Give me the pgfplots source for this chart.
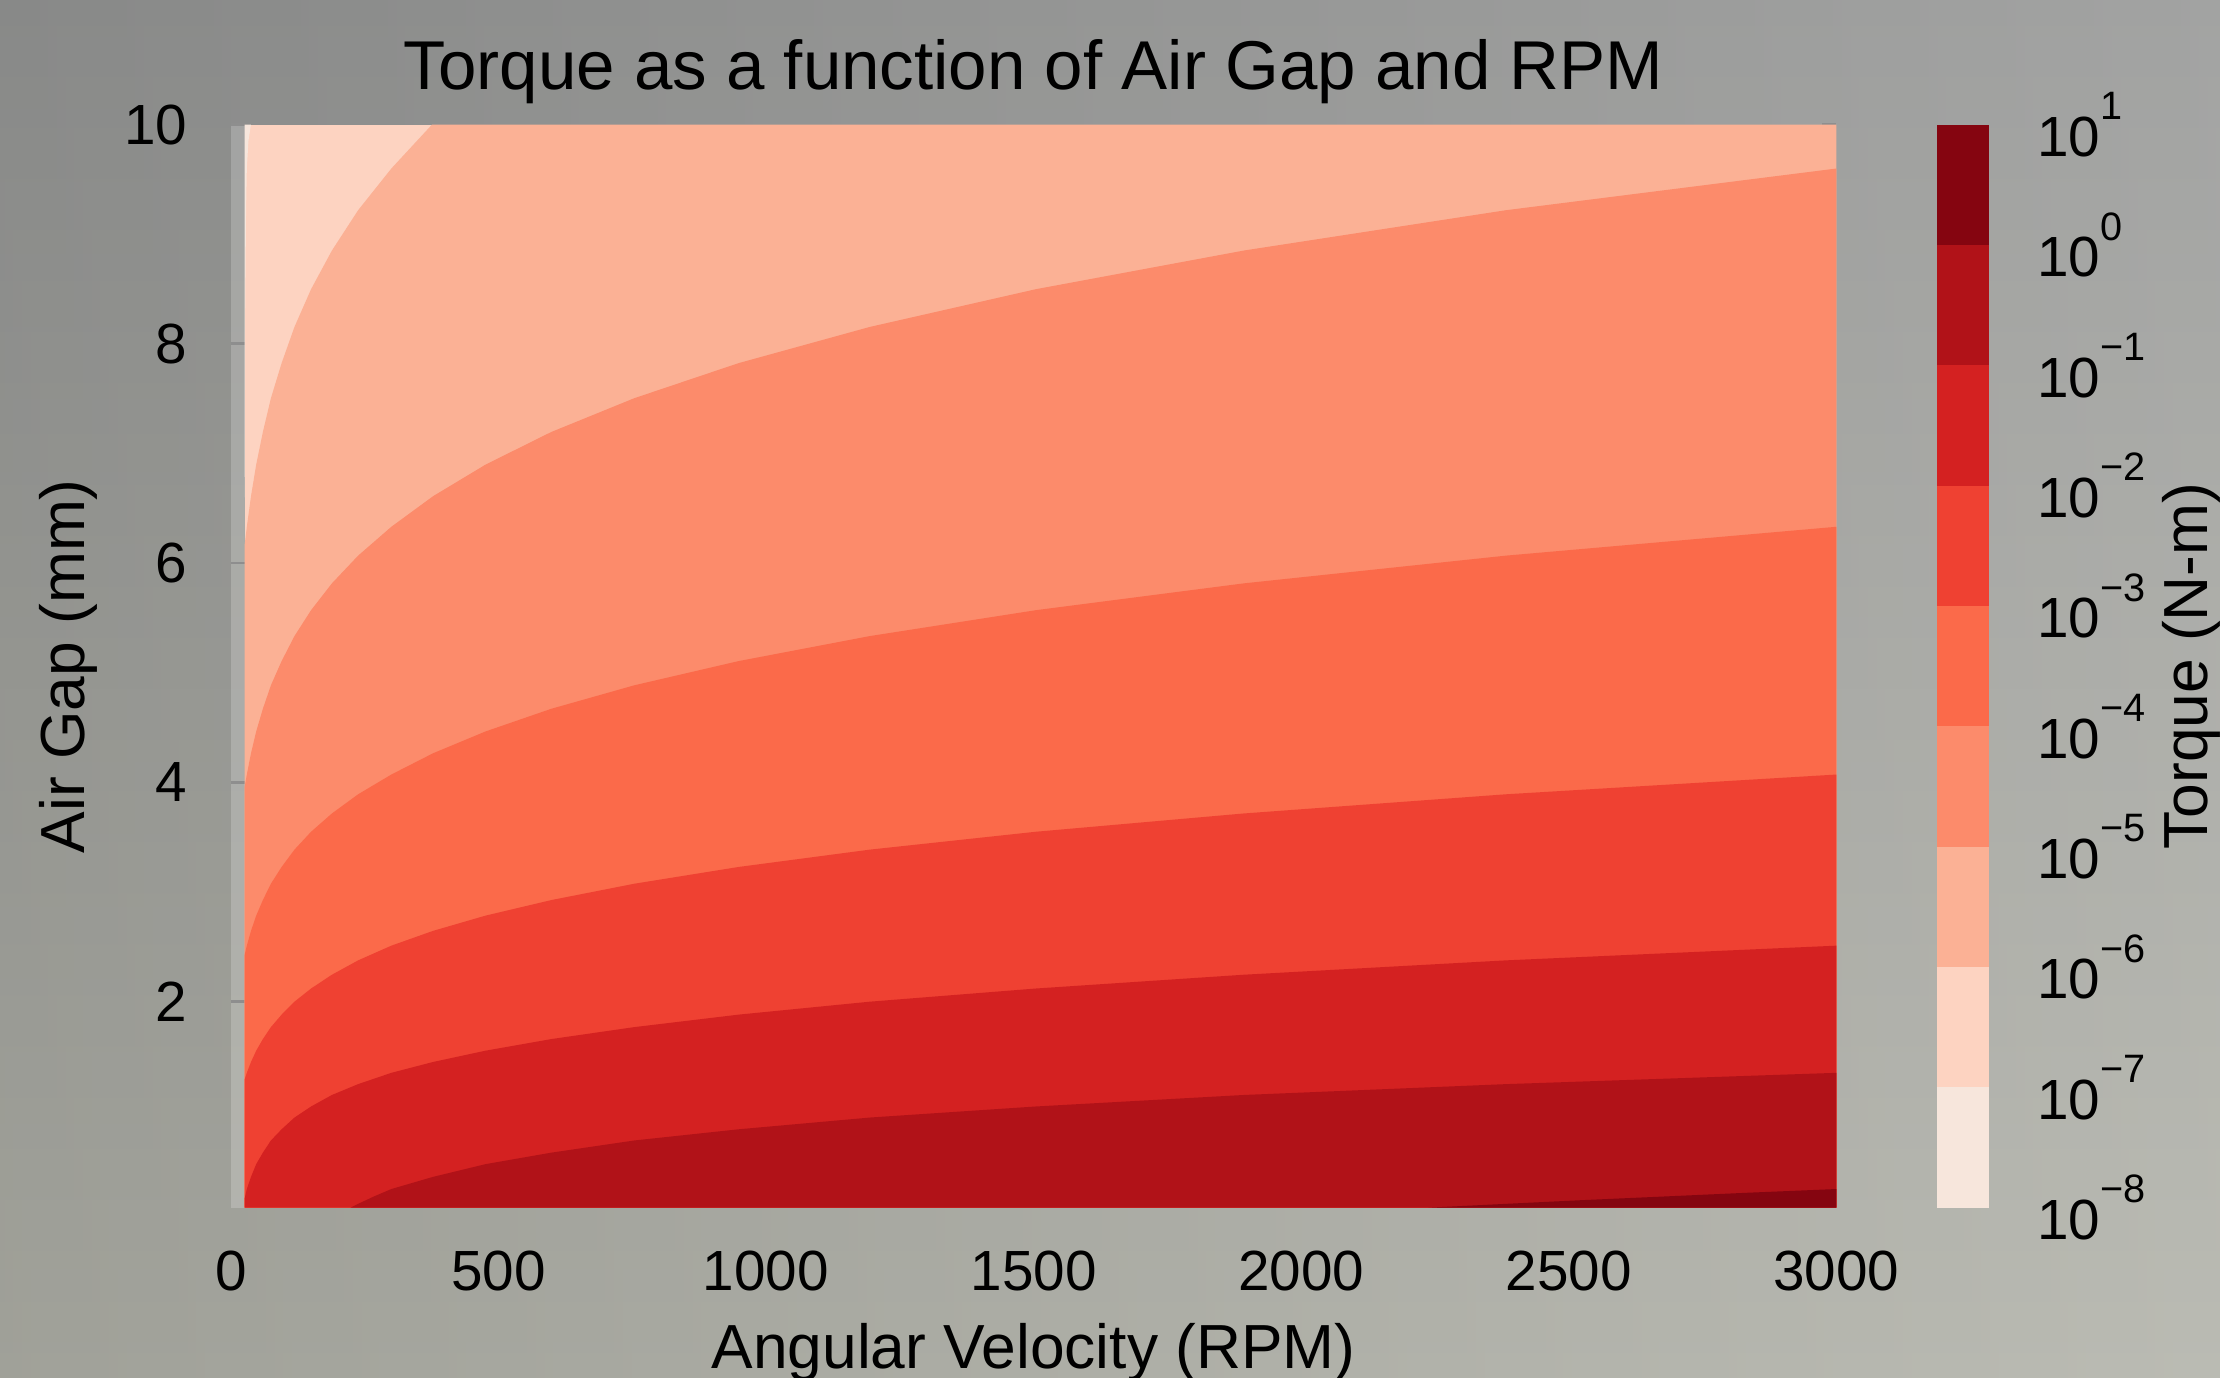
\documentclass[border=0pt]{standalone}
\usepackage{fontspec}
\setmainfont{Liberation Sans}
\usepackage{pgfplots}
\pgfplotsset{compat=1.18}

\definecolor{c1}{HTML}{F7E6DC}
\definecolor{c2}{HTML}{FDD3C1}
\definecolor{c3}{HTML}{FBB195}
\definecolor{c4}{HTML}{FC8B6B}
\definecolor{c5}{HTML}{FB6A4A}
\definecolor{c6}{HTML}{EF4132}
\definecolor{c7}{HTML}{D42121}
\definecolor{c8}{HTML}{B11218}
\definecolor{c9}{HTML}{850510}
\definecolor{bgtop}{HTML}{989998}
\definecolor{bgbot}{HTML}{B3B4AB}
\definecolor{tickgray}{HTML}{8E8E8E}

\newcommand{\pw}[1]{10\raisebox{6.5pt}{\fontsize{7}{7}\selectfont #1}}

\begin{document}
\begin{tikzpicture}
\useasboundingbox (0,0) rectangle (392pt,243.25pt);
\shade[top color=bgtop, bottom color=bgbot] (0,0) rectangle (392pt,243.25pt);
\shade[left color=black, right color=white, opacity=0.10] (0,0) rectangle (392pt,243.25pt);

\begin{axis}[
  at={(40.75pt,30pt)}, anchor=south west,
  scale only axis, width=283.5pt, height=191.25pt,
  xmin=0, xmax=3000, ymin=0.12, ymax=10,
  axis line style={draw=none},
  axis background/.style={fill=white, fill opacity=0.2},
  xtick={0,500,1000,1500,2000,2500,3000},
  xticklabels={0,500,1000,1500,2000,2500,3000},
  ytick={2,4,6,8,10},
  yticklabels={2,4,6,8,10},
  x tick style={draw=none},
  y tick style={draw=tickgray, line width=0.5pt},
  major tick length=2.5pt,
  tick align=inside,
  xticklabel style={font=\fontsize{10}{12}\selectfont, anchor=north, inner sep=0pt, yshift=-7.5pt},
  yticklabel style={font=\fontsize{10}{12}\selectfont, anchor=east, inner sep=0pt, xshift=-7.5pt},
  title={Torque as a function of Air Gap and RPM},
  title style={at={(axis description cs:0.5,1)}, anchor=base, yshift=0.25pt, font=\fontsize{12.2}{14}\selectfont, inner sep=0pt},
  xlabel={Angular Velocity (RPM)},
  xlabel style={at={(axis description cs:0.5,-0.1485)}, anchor=base, font=\fontsize{11}{13}\selectfont, inner sep=0pt},
  ylabel={Air Gap (mm)},
  ylabel style={at={(axis description cs:-0.1014,0.5)}, anchor=center, font=\fontsize{11}{13}\selectfont, inner sep=0pt},
]
% band 1e-7..1e-6 (rest of data area)
\addplot[fill=c2, draw=none] coordinates {(26,0.12) (3000,0.12) (3000,10) (26,10)} -- cycle;
% band 1e-8..1e-7 (thin sliver at top-left)
\addplot[fill=c1, draw=none] coordinates {(26,6.6) (27,8.3) (28.5,9.2) (30,9.6) (33,9.85) (37.6,10) (26,10)} -- cycle;
% below the 1e-6 contour
\addplot[fill=c3, draw=none] coordinates {(26,0.12) (26,6.17) (30,6.331) (37.8,6.610) (47.5,6.898) (60,7.196) (75,7.504) (95,7.824) (119,8.154) (150,8.498) (189,8.851) (238,9.219) (300,9.599) (376,10) (3000,10) (3000,0.12)} -- cycle;
% below the 1e-5 contour
\addplot[fill=c4, draw=none] coordinates {(26,0.12) (26,3.96) (30,4.071) (37.8,4.265) (47.5,4.464) (60,4.671) (75,4.885) (95,5.106) (119,5.334) (150,5.570) (189,5.815) (238,6.068) (300,6.331) (378,6.610) (476,6.898) (599,7.196) (754,7.504) (949,7.824) (1194,8.154) (1504,8.498) (1893,8.851) (2383,9.219) (3000,9.599) (3000,0.12)} -- cycle;
% below the 1e-4 contour
\addplot[fill=c5, draw=none] coordinates {(26,0.12) (26,2.427) (30,2.510) (37.8,2.645) (47.5,2.784) (60,2.926) (75,3.075) (95,3.228) (119,3.386) (150,3.549) (189,3.716) (238,3.891) (300,4.071) (378,4.265) (476,4.464) (599,4.671) (754,4.885) (949,5.106) (1194,5.334) (1504,5.570) (1893,5.815) (2383,6.068) (3000,6.331) (3000,0.12)} -- cycle;
% below the 1e-3 contour
\addplot[fill=c6, draw=none] coordinates {(26,0.12) (26,1.290) (30,1.350) (37.8,1.449) (47.5,1.552) (60,1.658) (75,1.767) (95,1.881) (119,1.999) (150,2.119) (189,2.245) (238,2.376) (300,2.510) (378,2.645) (476,2.784) (599,2.926) (754,3.075) (949,3.228) (1194,3.386) (1504,3.549) (1893,3.716) (2383,3.891) (3000,4.071) (3000,0.12)} -- cycle;
% below the 1e-2 contour
\addplot[fill=c7, draw=none] coordinates {(26,0.12) (26,0.205) (30,0.290) (37.8,0.401) (47.5,0.517) (60,0.622) (75,0.733) (95,0.835) (119,0.942) (150,1.043) (189,1.148) (238,1.247) (300,1.350) (378,1.449) (476,1.552) (599,1.658) (754,1.767) (949,1.881) (1194,1.999) (1504,2.119) (1893,2.245) (2383,2.376) (3000,2.510) (3000,0.12)} -- cycle;
% below the 1e-1 contour
\addplot[fill=c8, draw=none] coordinates {(224,0.12) (238,0.155) (267,0.221) (300,0.290) (378,0.401) (476,0.517) (599,0.622) (754,0.733) (949,0.835) (1194,0.942) (1504,1.043) (1893,1.148) (2383,1.247) (3000,1.350) (3000,0.12)} -- cycle;
% below the 1e0 contour
\addplot[fill=c9, draw=none] coordinates {(2238,0.12) (2383,0.155) (2522,0.188) (2674,0.221) (2833,0.256) (3000,0.290) (3000,0.12)} -- cycle;
\end{axis}

\begin{axis}[
  at={(342pt,30pt)}, anchor=south west,
  scale only axis, width=9.25pt, height=191.25pt,
  xmin=0, xmax=1, ymode=log, ymin=1e-8, ymax=1e1,
  axis line style={draw=none},
  xtick=\empty,
  ytick={1e-8,1e-7,1e-6,1e-5,1e-4,1e-3,1e-2,1e-1,1e0,1e1},
  yticklabels={\pw{−8},\pw{−7},\pw{−6},\pw{−5},\pw{−4},\pw{−3},\pw{−2},\pw{−1},\pw{0},\pw{1}},
  yticklabel pos=right,
  y tick style={draw=none},
  yticklabel style={font=\fontsize{10}{12}\selectfont, anchor=west, inner sep=0pt, xshift=8.25pt},
  ylabel={Torque (N-m)},
  ylabel style={at={(axis description cs:4.865,0.5)}, anchor=center, font=\fontsize{11}{13}\selectfont, inner sep=0pt},
]
\addplot[fill=c1, draw=none] coordinates {(0,1e-8) (1,1e-8) (1,1e-7) (0,1e-7)} -- cycle;
\addplot[fill=c2, draw=none] coordinates {(0,1e-7) (1,1e-7) (1,1e-6) (0,1e-6)} -- cycle;
\addplot[fill=c3, draw=none] coordinates {(0,1e-6) (1,1e-6) (1,1e-5) (0,1e-5)} -- cycle;
\addplot[fill=c4, draw=none] coordinates {(0,1e-5) (1,1e-5) (1,1e-4) (0,1e-4)} -- cycle;
\addplot[fill=c5, draw=none] coordinates {(0,1e-4) (1,1e-4) (1,1e-3) (0,1e-3)} -- cycle;
\addplot[fill=c6, draw=none] coordinates {(0,1e-3) (1,1e-3) (1,1e-2) (0,1e-2)} -- cycle;
\addplot[fill=c7, draw=none] coordinates {(0,1e-2) (1,1e-2) (1,1e-1) (0,1e-1)} -- cycle;
\addplot[fill=c8, draw=none] coordinates {(0,1e-1) (1,1e-1) (1,1e0) (0,1e0)} -- cycle;
\addplot[fill=c9, draw=none] coordinates {(0,1e0) (1,1e0) (1,1e1) (0,1e1)} -- cycle;
\end{axis}
\end{tikzpicture}
\end{document}
